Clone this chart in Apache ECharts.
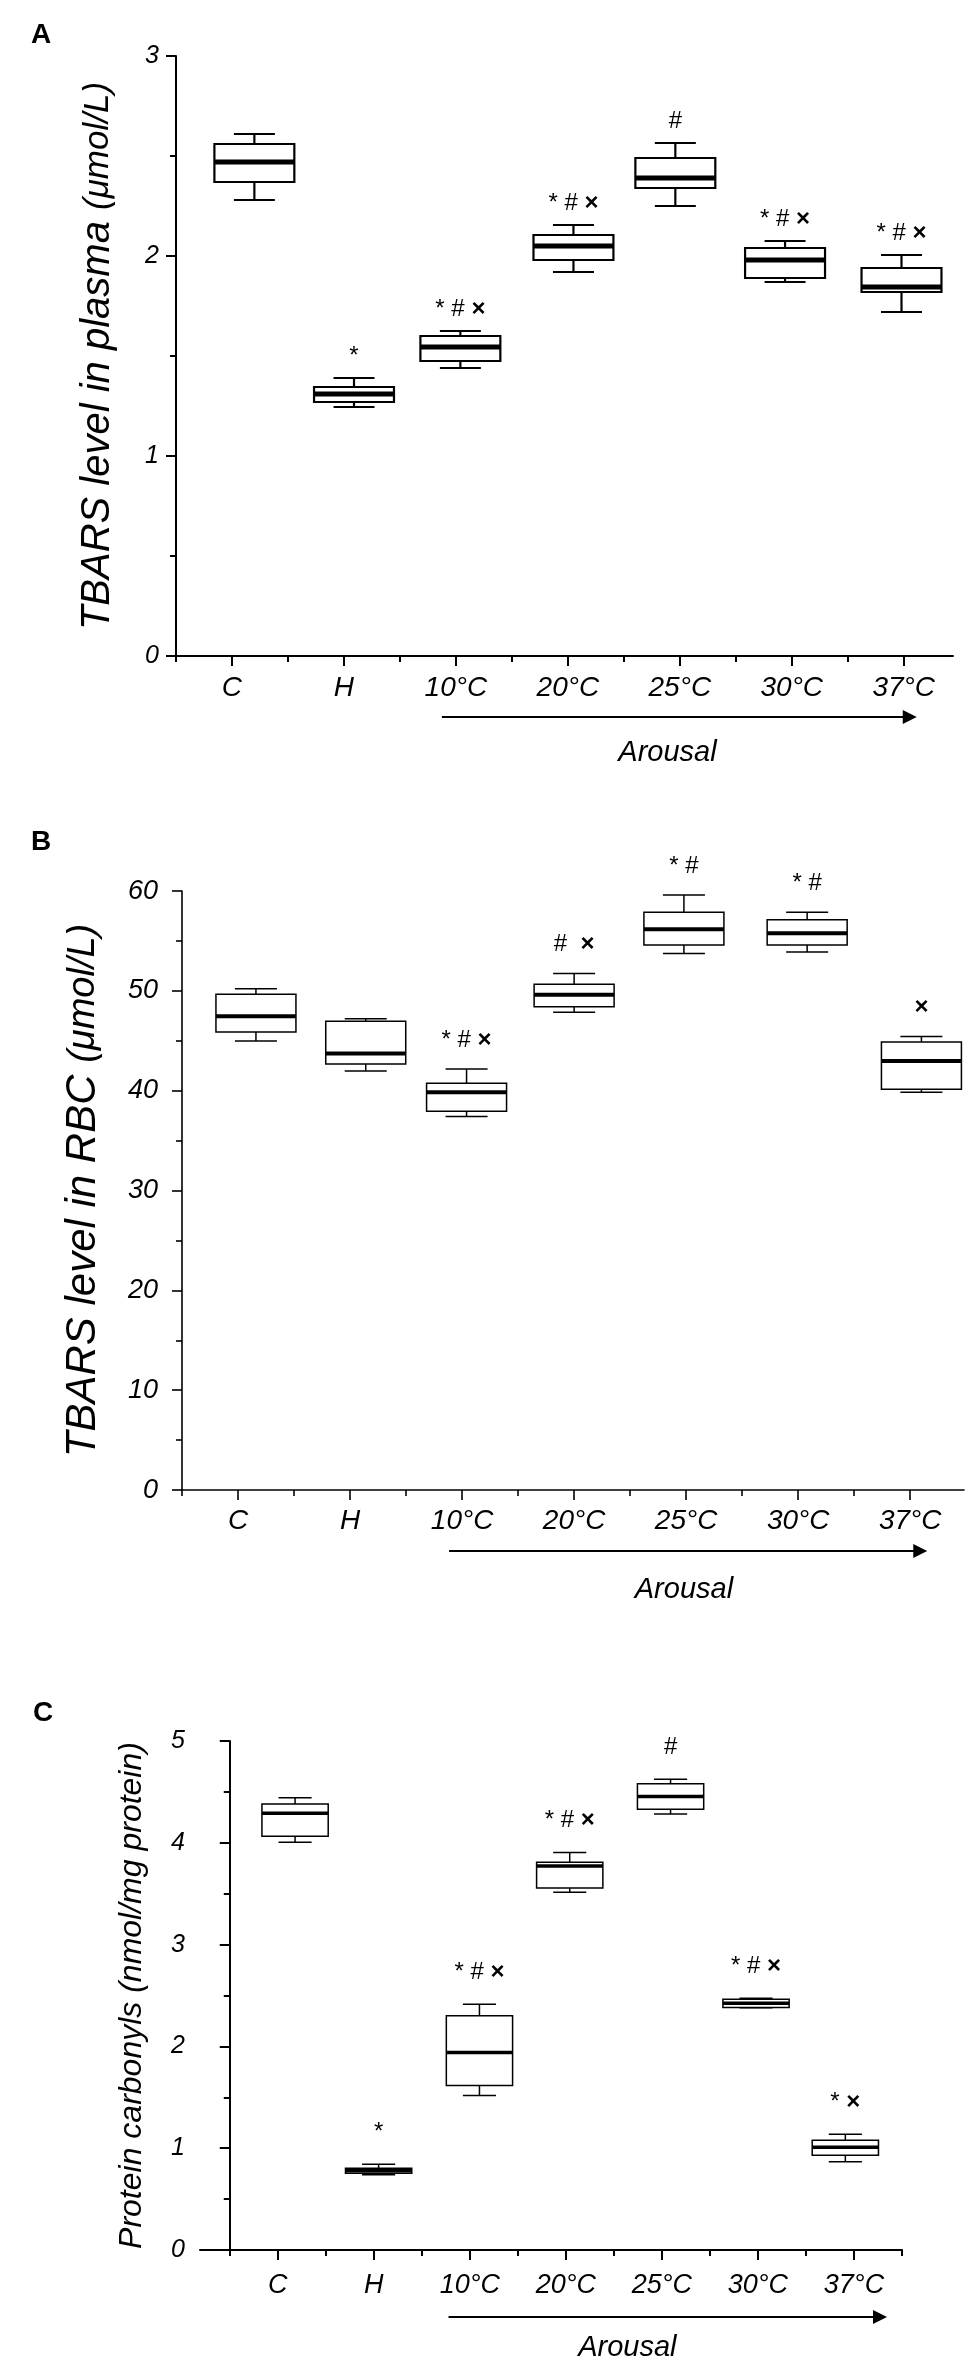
<!DOCTYPE html>
<html>
<head>
<meta charset="utf-8">
<script src="https://cdn.jsdelivr.net/npm/echarts@6/dist/echarts.min.js"></script>
<style>
  html, body { margin: 0; padding: 0; background: #fff; }
  #chart { width: 971px; height: 2362px; }
</style>
</head>
<body>
<div id="chart"></div>
<script>
var groups = ['C', 'H', '10°C', '20°C', '25°C', '30°C', '37°C'];

// each box: [min, Q1, median, Q3, max]
var plasmaBoxes = [
  [2.28, 2.37, 2.47, 2.56, 2.61],
  [1.245, 1.27, 1.31, 1.345, 1.39],
  [1.44, 1.475, 1.545, 1.60, 1.625],
  [1.92, 1.98, 2.05, 2.105, 2.155],
  [2.25, 2.34, 2.39, 2.49, 2.565],
  [1.87, 1.89, 1.98, 2.04, 2.075],
  [1.72, 1.82, 1.845, 1.94, 2.005]
];
var rbcBoxes = [
  [44.97, 45.87, 47.46, 49.65, 50.2],
  [41.98, 42.68, 43.73, 46.96, 47.2],
  [37.4, 37.95, 39.84, 40.74, 42.18],
  [47.86, 48.41, 49.6, 50.65, 51.74],
  [53.74, 54.58, 56.18, 57.87, 59.61],
  [53.88, 54.58, 55.78, 57.12, 57.87],
  [39.84, 40.14, 42.98, 44.87, 45.42]
];
var carbonylBoxes = [
  [4.006, 4.065, 4.29, 4.38, 4.442],
  [0.739, 0.754, 0.779, 0.803, 0.842],
  [1.518, 1.616, 1.939, 2.302, 2.414],
  [3.515, 3.555, 3.773, 3.81, 3.905],
  [4.282, 4.33, 4.456, 4.58, 4.625],
  [2.38, 2.382, 2.424, 2.463, 2.473],
  [0.867, 0.93, 1.009, 1.077, 1.136]
];

// where each box sits on the group scale (the boxes are not exactly on the ticks)
var plasmaPos = [0.70, 1.59, 2.54, 3.55, 4.46, 5.44, 6.48];
var rbcPos = [0.66, 1.64, 2.54, 3.50, 4.48, 5.58, 6.60];
var carbonylPos = [0.68, 1.55, 2.60, 3.54, 4.59, 5.48, 6.41];

// significance marks above the boxes
var plasmaSigns = ['', '*', '* # ×', '* # ×', '#', '* # ×', '* # ×'];
var rbcSigns = ['', '', '* # ×', '#  ×', '* #', '* #', '×'];
var carbonylSigns = ['', '*', '* # ×', '* # ×', '#', '* # ×', '* ×'];

var majorTicks = [0.5, 1.5, 2.5, 3.5, 4.5, 5.5, 6.5];

var FONT = '"Liberation Sans", Arial, Helvetica, sans-serif';

var panels = [
  {
    letter: 'A', letterPos: [31, 21],
    boxes: plasmaBoxes, pos: plasmaPos, signs: plasmaSigns,
    name: '{a|TBARS level in plasma }{b|(μmol/L)}', nameSizes: [40, 35], nameGap: 58,
    grid: { left: 176, top: 56, width: 777, height: 600 },
    xMin: 0, xMax: 6.94, minorX: [0, 1, 2, 3, 4, 5, 6],
    yMax: 3, yStep: 1, yLabelSize: 25, yLabelMargin: 17,
    xLabelSize: 28, xLabelMargin: 18, axisW: 2,
    boxFrac: 0.714, capFrac: 0.366, lw: 2.2, medW: 5, signGap: 22,
    arrow: [2.375, 6.616], arrowDy: 61, arousalX: 4.39, arousalDy: 97
  },
  {
    letter: 'B', letterPos: [31, 828],
    boxes: rbcBoxes, pos: rbcPos, signs: rbcSigns,
    name: '{a|TBARS level in RBC }{b|(μmol/L)}', nameSizes: [42, 38], nameGap: 78,
    grid: { left: 182, top: 891, width: 782, height: 599 },
    xMin: 0, xMax: 6.98, minorX: [0, 1, 2, 3, 4, 5, 6],
    yMax: 60, yStep: 10, yLabelSize: 27, yLabelMargin: 24,
    xLabelSize: 28, xLabelMargin: 17, axisW: 1.6,
    boxFrac: 0.714, capFrac: 0.375, lw: 1.5, medW: 4, signGap: 29,
    arrow: [2.384, 6.652], arrowDy: 61, arousalX: 4.48, arousalDy: 100
  },
  {
    letter: 'C', letterPos: [33, 1699],
    boxes: carbonylBoxes, pos: carbonylPos, signs: carbonylSigns,
    name: '{a|Protein carbonyls (nmol/mg protein)}', nameSizes: [32, 32], nameGap: 52,
    grid: { left: 200, top: 1741, width: 702, height: 509 },
    xMin: -0.31, xMax: 7, minorX: [0, 1, 2, 3, 4, 5, 6, 7],
    yMax: 5, yStep: 1, yLabelSize: 25, yLabelMargin: 15,
    xLabelSize: 27, xLabelMargin: 22, axisW: 2,
    boxFrac: 0.69, capFrac: 0.345, lw: 1.5, medW: 3.5, signGap: 32,
    arrow: [2.278, 6.844], arrowDy: 67, arousalX: 4.14, arousalDy: 98
  }
];

function makeRender(p) {
  return function (params, api) {
    var x = api.value(0);
    var lo = api.coord([x, api.value(1)]);
    var q1 = api.coord([x, api.value(2)]);
    var md = api.coord([x, api.value(3)]);
    var q3 = api.coord([x, api.value(4)]);
    var hi = api.coord([x, api.value(5)]);
    var band = api.size([1, 0])[0];
    var bw = band * p.boxFrac, cw = band * p.capFrac;
    var cx = hi[0];
    var ls = { stroke: '#000', lineWidth: p.lw };
    var kids = [
      { type: 'line', shape: { x1: cx, y1: hi[1], x2: cx, y2: q3[1] }, style: ls },
      { type: 'line', shape: { x1: cx, y1: q1[1], x2: cx, y2: lo[1] }, style: ls },
      { type: 'line', shape: { x1: cx - cw / 2, y1: hi[1], x2: cx + cw / 2, y2: hi[1] }, style: ls },
      { type: 'line', shape: { x1: cx - cw / 2, y1: lo[1], x2: cx + cw / 2, y2: lo[1] }, style: ls },
      { type: 'rect', shape: { x: cx - bw / 2, y: q3[1], width: bw, height: q1[1] - q3[1] },
        style: { fill: '#fff', stroke: '#000', lineWidth: p.lw } },
      { type: 'line', shape: { x1: cx - bw / 2, y1: md[1], x2: cx + bw / 2, y2: md[1] },
        style: { stroke: '#000', lineWidth: p.medW } }
    ];
    var s = p.signs[params.dataIndex];
    if (s) {
      kids.push({
        type: 'text', x: cx, y: hi[1] - p.signGap,
        style: {
          text: s.replace('×', '{x|×}'), fill: '#000', fontSize: 24, fontFamily: FONT,
          align: 'center', verticalAlign: 'middle',
          rich: { x: { fontSize: 24, fontWeight: 'bold', fontFamily: FONT, fill: '#000' } }
        }
      });
    }
    return { type: 'group', children: kids };
  };
}

var grids = [], xAxes = [], yAxes = [], series = [], titles = [];

panels.forEach(function (p, k) {
  grids.push(p.grid);
  titles.push({
    text: p.letter, left: p.letterPos[0], top: p.letterPos[1], padding: 0,
    textStyle: { fontFamily: FONT, fontSize: 28, fontWeight: 'bold', color: '#000' }
  });
  // main x axis: line, ticks and labels at group centres
  xAxes.push({
    type: 'value', gridIndex: k, position: 'bottom', min: p.xMin, max: p.xMax,
    splitLine: { show: false },
    axisLine: { onZero: false, lineStyle: { color: '#000', width: p.axisW } },
    axisTick: { customValues: majorTicks, length: 10, lineStyle: { color: '#000', width: p.axisW } },
    axisLabel: {
      customValues: majorTicks, margin: p.xLabelMargin,
      fontFamily: FONT, fontSize: p.xLabelSize, fontStyle: 'italic', color: '#000',
      formatter: function (v) { return groups[Math.round(v - 0.5)]; }
    }
  });
  // second x axis only for the short ticks between groups
  xAxes.push({
    type: 'value', gridIndex: k, position: 'bottom', min: p.xMin, max: p.xMax,
    splitLine: { show: false },
    axisLine: { show: false },
    axisTick: { customValues: p.minorX, length: 6, lineStyle: { color: '#000', width: p.axisW } },
    axisLabel: { show: false }
  });
  yAxes.push({
    type: 'value', gridIndex: k, position: 'left', min: 0, max: p.yMax, interval: p.yStep,
    splitLine: { show: false },
    axisLine: { show: true, lineStyle: { color: '#000', width: p.axisW } },
    axisTick: { show: true, length: 10, lineStyle: { color: '#000', width: p.axisW } },
    minorTick: { show: true, splitNumber: 2, length: 6, lineStyle: { color: '#000', width: p.axisW } },
    axisLabel: { margin: p.yLabelMargin, fontFamily: FONT, fontSize: p.yLabelSize,
                 fontStyle: 'italic', color: '#000' },
    name: p.name, nameLocation: 'middle', nameRotate: 90, nameGap: p.nameGap,
    nameTextStyle: {
      color: '#000',
      rich: {
        a: { fontFamily: FONT, fontStyle: 'italic', fontSize: p.nameSizes[0], color: '#000' },
        b: { fontFamily: FONT, fontStyle: 'italic', fontSize: p.nameSizes[1], color: '#000' }
      }
    }
  });
  series.push({
    type: 'custom', name: p.letter, xAxisIndex: 2 * k, yAxisIndex: k,
    renderItem: makeRender(p),
    encode: { x: 0, y: [1, 2, 3, 4, 5] },
    data: p.boxes.map(function (b, i) { return [p.pos[i]].concat(b); }),
    clip: false, silent: true
  });
});

var chart = echarts.init(document.getElementById('chart'));
chart.setOption({
  animation: false,
  backgroundColor: '#fff',
  title: titles,
  grid: grids,
  xAxis: xAxes,
  yAxis: yAxes,
  series: series
});

// "Arousal" arrow under each x axis, placed from the axis scale
var graphics = [];
panels.forEach(function (p, k) {
  var x0 = chart.convertToPixel({ xAxisIndex: 2 * k }, p.arrow[0]);
  var x1 = chart.convertToPixel({ xAxisIndex: 2 * k }, p.arrow[1]);
  var y0 = chart.convertToPixel({ yAxisIndex: k }, 0);
  var ya = y0 + p.arrowDy;
  graphics.push({
    type: 'line', shape: { x1: x0, y1: ya, x2: x1 - 10, y2: ya },
    style: { stroke: '#000', lineWidth: 2 }
  });
  graphics.push({
    type: 'polygon', shape: { points: [[x1 - 14, ya - 7], [x1, ya], [x1 - 14, ya + 7]] },
    style: { fill: '#000' }
  });
  graphics.push({
    type: 'text', x: chart.convertToPixel({ xAxisIndex: 2 * k }, p.arousalX), y: y0 + p.arousalDy,
    style: { text: 'Arousal', fill: '#000', fontFamily: FONT, fontSize: 29, fontStyle: 'italic',
             align: 'center', verticalAlign: 'middle' }
  });
});
chart.setOption({ graphic: graphics });
</script>
</body>
</html>
